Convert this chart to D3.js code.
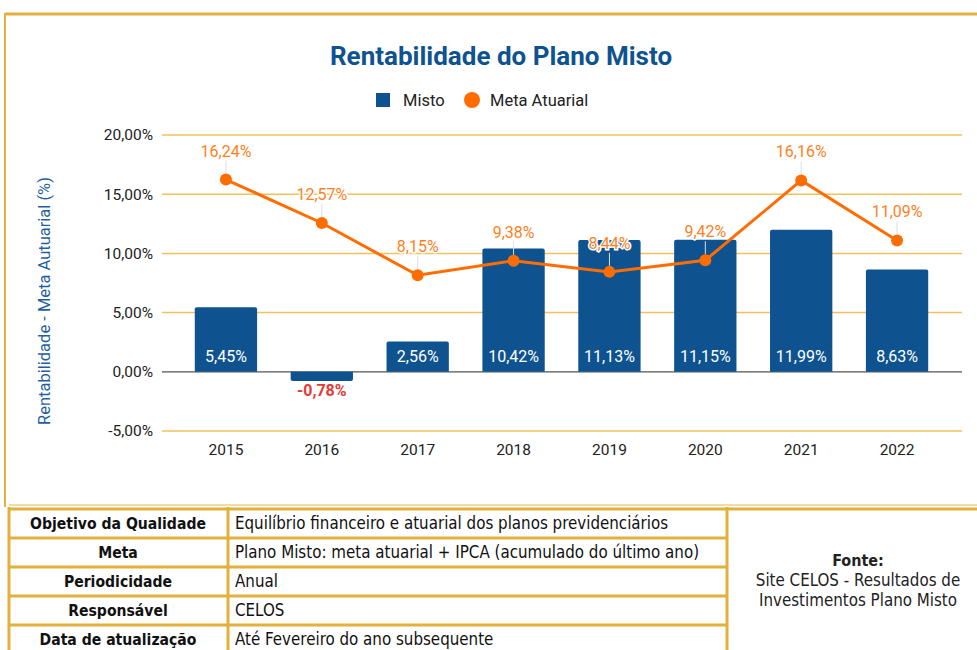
<!DOCTYPE html>
<html>
<head>
<meta charset="utf-8">
<script src="https://cdn.jsdelivr.net/npm/d3@7"></script>
<style>
  body { margin: 0; background: #fff; }
  svg { display: block; font-family: Roboto, "Noto Sans", sans-serif; }
</style>
</head>
<body>
<svg id="chart" width="977" height="650"></svg>
<script>
// data
var years = ['2015', '2016', '2017', '2018', '2019', '2020', '2021', '2022'];
var misto = [5.45, -0.78, 2.56, 10.42, 11.13, 11.15, 11.99, 8.63];
var metaAtuarial = [16.24, 12.57, 8.15, 9.38, 8.44, 9.42, 16.16, 11.09];
var yTicks = [-5, 0, 5, 10, 15, 20];

var tableRows = [
    ['Objetivo da Qualidade', 'Equilíbrio financeiro e atuarial dos planos previdenciários'],
    ['Meta', 'Plano Misto: meta atuarial + IPCA (acumulado do último ano)'],
    ['Periodicidade', 'Anual'],
    ['Responsável', 'CELOS'],
    ['Data de atualização', 'Até Fevereiro do ano subsequente']
];
var fonteLines = ['Site CELOS - Resultados de', 'Investimentos Plano Misto'];

var gold = '#e3b03c';
var blue = '#0e5390';
var orange = '#ff6d00';

var ptBR = d3.formatLocale({decimal: ',', thousands: '.', grouping: [3], currency: ['', ''], minus: '-'});
var fmt = function (v) { return ptBR.format('.2f')(v) + '%'; };

var svg = d3.select('#chart');

// frame
svg.append('line').attr('x1', 5).attr('x2', 977).attr('y1', 14).attr('y2', 14)
    .attr('stroke', gold).attr('stroke-width', 3);
svg.append('line').attr('x1', 5).attr('x2', 5).attr('y1', 13).attr('y2', 507)
    .attr('stroke', gold).attr('stroke-width', 2);

// title
svg.append('text').attr('x', 501).attr('y', 65).attr('text-anchor', 'middle')
    .attr('font-size', 26).attr('font-weight', 700).attr('fill', blue)
    .text('Rentabilidade do Plano Misto');

// legend
var legend = svg.append('g');
legend.append('rect').attr('x', 376).attr('y', 93).attr('width', 14).attr('height', 14).attr('fill', blue);
legend.append('text').attr('x', 403).attr('y', 106).attr('font-size', 16.5).attr('fill', '#222').text('Misto');
legend.append('circle').attr('cx', 472).attr('cy', 100).attr('r', 8).attr('fill', orange);
legend.append('text').attr('x', 490).attr('y', 106).attr('font-size', 16.5).attr('fill', '#222').text('Meta Atuarial');

// scales
var x = d3.scaleBand().domain(years).range([178, 945]).paddingInner(0.35).paddingOuter(0.175);
var y = d3.scaleLinear().domain([-5, 20]).range([431, 135]);

// grid
var grid = svg.append('g');
grid.selectAll('line').data(yTicks).enter().append('line')
    .attr('x1', 162).attr('x2', 962)
    .attr('y1', function (d) { return y(d); })
    .attr('y2', function (d) { return y(d); })
    .attr('stroke', function (d) { return d === 0 ? '#555' : '#efc25a'; })
    .attr('stroke-width', function (d) { return d === 0 ? 1.3 : 1.5; });

// y axis
var yAxis = svg.append('g').attr('transform', 'translate(162,0)')
    .call(d3.axisLeft(y).tickValues(yTicks).tickSize(0).tickPadding(9).tickFormat(fmt));
yAxis.select('.domain').remove();
yAxis.selectAll('text').attr('font-size', 15.5).attr('fill', '#222').attr('font-family', 'Roboto');

svg.append('text').attr('transform', 'translate(50,301) rotate(-90)')
    .attr('text-anchor', 'middle').attr('font-size', 16.5).attr('fill', '#1f5f9f')
    .text('Rentabilidade - Meta Autuarial (%)');

// x axis
var xAxis = svg.append('g').attr('transform', 'translate(0,' + 441 + ')')
    .call(d3.axisBottom(x).tickSize(0).tickPadding(3));
xAxis.select('.domain').remove();
xAxis.selectAll('text').attr('font-size', 15.5).attr('fill', '#222').attr('font-family', 'Roboto');

// bars (rounded top)
function barPath(d, i) {
    var x0 = x(years[i]), w = x.bandwidth(), r = 2;
    var top = y(Math.max(d, 0)), bot = y(Math.min(d, 0));
    if (d >= 0) {
        return 'M' + x0 + ',' + bot + 'V' + (top + r) + 'Q' + x0 + ',' + top + ' ' + (x0 + r) + ',' + top +
            'H' + (x0 + w - r) + 'Q' + (x0 + w) + ',' + top + ' ' + (x0 + w) + ',' + (top + r) + 'V' + bot + 'Z';
    }
    return 'M' + x0 + ',' + top + 'V' + (bot - r) + 'Q' + x0 + ',' + bot + ' ' + (x0 + r) + ',' + bot +
        'H' + (x0 + w - r) + 'Q' + (x0 + w) + ',' + bot + ' ' + (x0 + w) + ',' + (bot - r) + 'V' + top + 'Z';
}
svg.append('g').selectAll('path').data(misto).enter().append('path')
    .attr('d', barPath).attr('fill', blue);

svg.append('g').selectAll('text').data(misto).enter().append('text')
    .attr('x', function (d, i) { return x(years[i]) + x.bandwidth() / 2; })
    .attr('y', function (d) { return d >= 0 ? y(0) - 10 : y(d) + 15; })
    .attr('text-anchor', 'middle').attr('font-size', 16)
    .attr('font-weight', function (d) { return d >= 0 ? 400 : 700; })
    .attr('fill', function (d) { return d >= 0 ? '#fff' : '#e53935'; })
    .text(fmt);

// line
var cx = function (d, i) { return x(years[i]) + x.bandwidth() / 2; };
svg.append('path').datum(metaAtuarial)
    .attr('d', d3.line().x(cx).y(function (d) { return y(d); }))
    .attr('fill', 'none').attr('stroke', orange).attr('stroke-width', 3);

var lbl = svg.append('g');
lbl.selectAll('line').data(metaAtuarial).enter().append('line')
    .attr('x1', cx).attr('x2', cx)
    .attr('y1', function (d) { return y(d) - 19; })
    .attr('y2', function (d) { return y(d) - 6; })
    .attr('stroke', '#ddd').attr('stroke-width', 1);
svg.append('g').selectAll('circle').data(metaAtuarial).enter().append('circle')
    .attr('cx', cx).attr('cy', function (d) { return y(d); })
    .attr('r', 6).attr('fill', orange);
lbl.selectAll('text').data(metaAtuarial).enter().append('text')
    .attr('x', cx).attr('y', function (d) { return y(d) - 23; })
    .attr('text-anchor', 'middle').attr('font-size', 16).attr('fill', '#ff7f1e')
    .attr('stroke', '#fff').attr('stroke-width', 3).attr('paint-order', 'stroke')
    .text(fmt);

// table
var tbl = svg.append('g').attr('font-family', '"DejaVu Sans Condensed", "DejaVu Sans", sans-serif');
tbl.append('line').attr('x1', 9).attr('x2', 977).attr('y1', 505).attr('y2', 505)
    .attr('stroke', '#f1cf85').attr('stroke-width', 1.5);
tbl.append('line').attr('x1', 9).attr('x2', 977).attr('y1', 509).attr('y2', 509)
    .attr('stroke', gold).attr('stroke-width', 3);

var rowY = d3.scaleLinear().domain([0, 1]).range([509, 538]);
tableRows.forEach(function (row, i) {
    var top = rowY(i);
    if (i > 0) {
        tbl.append('line').attr('x1', 9).attr('x2', 727).attr('y1', top).attr('y2', top)
            .attr('stroke', gold).attr('stroke-width', 3);
    }
    tbl.append('text').attr('x', 118).attr('y', top + 20).attr('text-anchor', 'middle')
        .attr('font-size', 15.6).attr('font-weight', 700).attr('fill', '#111').text(row[0]);
    tbl.append('text').attr('x', 235).attr('y', top + 20)
        .attr('font-size', 16.8).attr('fill', '#111').text(row[1]);
});
[9, 228, 727].forEach(function (vx) {
    tbl.append('line').attr('x1', vx).attr('x2', vx).attr('y1', 507).attr('y2', 650)
        .attr('stroke', gold).attr('stroke-width', 3);
});
tbl.append('text').attr('x', 858).attr('y', 566).attr('text-anchor', 'middle')
    .attr('font-size', 16).attr('font-weight', 700).attr('fill', '#222').text('Fonte:');
tbl.selectAll('.fonte').data(fonteLines).enter().append('text')
    .attr('x', 858).attr('y', function (d, i) { return 586 + i * 20; })
    .attr('text-anchor', 'middle').attr('font-size', 16.8).attr('fill', '#222').text(function (d) { return d; });
</script>
</body>
</html>
